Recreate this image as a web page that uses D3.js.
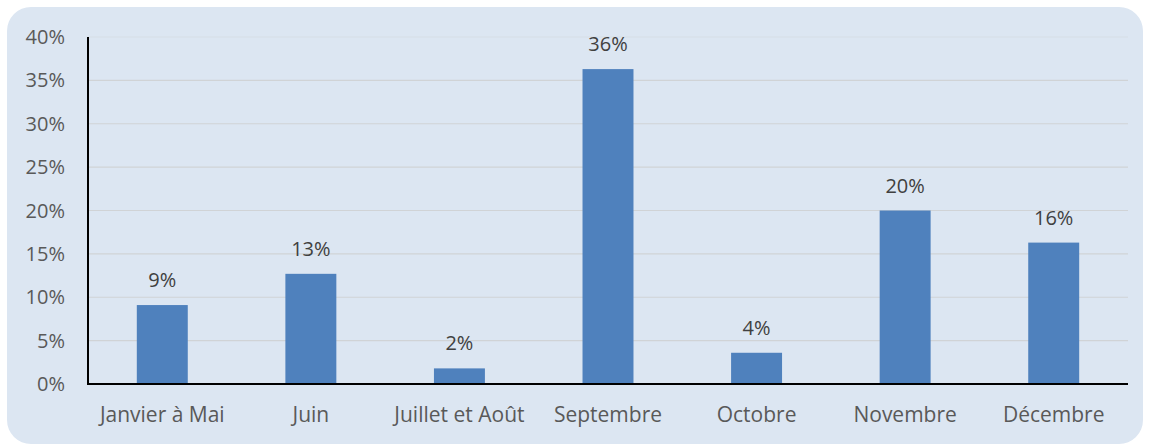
<!DOCTYPE html>
<html>
<head>
<meta charset="utf-8">
<script src="https://cdn.jsdelivr.net/npm/d3@7"></script>
<style>
  body { margin: 0; background: #fff; }
  svg { display: block; font-family: "Open Sans", "DejaVu Sans", sans-serif; }
</style>
</head>
<body>
<div id="chart"></div>
<script>
// data
const categories = ["Janvier à Mai", "Juin", "Juillet et Août", "Septembre", "Octobre", "Novembre", "Décembre"];
const values = [9.1, 12.7, 1.8, 36.3, 3.6, 20.0, 16.3];
const labels = ["9%", "13%", "2%", "36%", "4%", "20%", "16%"];
const yTicks = [0, 5, 10, 15, 20, 25, 30, 35, 40];

const width = 1152;
const height = 444;
const margin = { top: 37, right: 24, bottom: 60, left: 88 };

const svg = d3.select("#chart")
    .append("svg")
    .attr("width", width)
    .attr("height", height);

// panel background
svg.append("rect")
    .attr("x", 7)
    .attr("y", 7)
    .attr("width", 1136)
    .attr("height", 437)
    .attr("rx", 24)
    .attr("fill", "#dce6f2");

const x = d3.scaleBand()
    .domain(categories)
    .range([margin.left, width - margin.right])
    .paddingInner(0.657)
    .paddingOuter(0.3285);

const y = d3.scaleLinear()
    .domain([0, 40])
    .range([height - margin.bottom, margin.top]);

// gridlines
svg.append("g")
    .selectAll("line")
    .data(yTicks.slice(1))
    .enter()
    .append("line")
    .attr("x1", margin.left)
    .attr("x2", width - margin.right)
    .attr("y1", d => y(d))
    .attr("y2", d => y(d))
    .style("stroke", d => d === 40 ? "#d6dde6" : "#d0d3d6")
    .style("stroke-width", 1.2);

// y tick labels
svg.append("g")
    .selectAll("text")
    .data(yTicks)
    .enter()
    .append("text")
    .attr("x", 65)
    .attr("y", d => y(d))
    .attr("dy", "0.35em")
    .attr("text-anchor", "end")
    .style("font-size", "20px")
    .style("fill", "#595959")
    .text(d => d + "%");

// bars
svg.append("g")
    .selectAll("rect")
    .data(values)
    .enter()
    .append("rect")
    .attr("x", (d, i) => x(categories[i]))
    .attr("y", d => y(d))
    .attr("width", x.bandwidth())
    .attr("height", d => y(0) - y(d))
    .attr("fill", "#4f81bd");

// value labels
svg.append("g")
    .selectAll("text")
    .data(values)
    .enter()
    .append("text")
    .attr("x", (d, i) => x(categories[i]) + x.bandwidth() / 2)
    .attr("y", d => y(d) - 18)
    .attr("text-anchor", "middle")
    .style("font-size", "20px")
    .style("fill", "#404040")
    .text((d, i) => labels[i]);

// axes lines
svg.append("line")
    .attr("x1", margin.left)
    .attr("x2", margin.left)
    .attr("y1", y(40))
    .attr("y2", y(0))
    .style("stroke", "black")
    .style("stroke-width", 2);

svg.append("line")
    .attr("x1", margin.left - 1)
    .attr("x2", width - margin.right)
    .attr("y1", y(0))
    .attr("y2", y(0))
    .style("stroke", "black")
    .style("stroke-width", 2);

// category labels
svg.append("g")
    .selectAll("text")
    .data(categories)
    .enter()
    .append("text")
    .attr("x", d => x(d) + x.bandwidth() / 2)
    .attr("y", 422)
    .attr("text-anchor", "middle")
    .style("font-size", "21px")
    .style("fill", "#595959")
    .text(d => d);
</script>
</body>
</html>
